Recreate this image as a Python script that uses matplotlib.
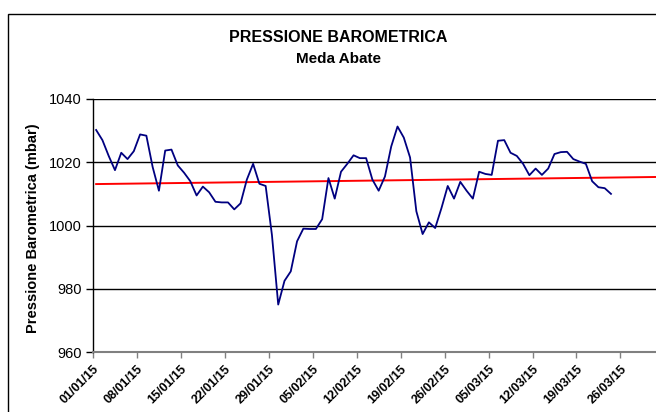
import matplotlib
matplotlib.use("Agg")
import matplotlib.pyplot as plt
from matplotlib.patches import Rectangle
import numpy as np

plt.rcParams['font.family'] = ['Liberation Sans', 'DejaVu Sans']

# Daily barometric pressure (mbar), 01/01/15 .. 24/03/15
pressure = [1030.2, 1027.0, 1022.0, 1017.5, 1023.0, 1021.0, 1023.5, 1028.8, 1028.4, 1018.5,
            1011.0, 1023.7, 1024.0, 1019.0, 1016.7, 1014.0, 1009.5, 1012.3, 1010.5, 1007.5,
            1007.3, 1007.3, 1005.1, 1007.0, 1014.5, 1019.5, 1013.2, 1012.5, 997.0, 975.0,
            982.5, 985.5, 995.0, 999.0, 998.9, 998.9, 1002.0, 1015.0, 1008.5, 1017.0,
            1019.5, 1022.2, 1021.3, 1021.3, 1014.5, 1011.0, 1015.5, 1025.0, 1031.3, 1027.8,
            1021.5, 1004.5, 997.3, 1001.0, 999.2, 1005.5, 1012.5, 1008.5, 1013.8, 1011.0,
            1008.5, 1017.0, 1016.3, 1016.0, 1026.8, 1027.0, 1023.0, 1022.0, 1019.5, 1015.9,
            1018.0, 1016.0, 1018.0, 1022.6, 1023.2, 1023.3, 1021.0, 1020.2, 1019.5, 1014.0,
            1012.1, 1011.8, 1010.0]

# Linear trend line endpoints (day, mbar)
trend_days = [0.5, 100.0]
trend_vals = [1013.1, 1015.6]

tick_labels = ["01/01/15", "08/01/15", "15/01/15", "22/01/15", "29/01/15", "05/02/15",
               "12/02/15", "19/02/15", "26/02/15", "05/03/15", "12/03/15", "19/03/15",
               "26/03/15"]
tick_days = [0, 7, 14, 21, 28, 35, 42, 49, 56, 63, 70, 77, 84]
y_ticks = [960, 980, 1000, 1020, 1040]

W, H = 656, 412
fig = plt.figure(figsize=(W / 100, H / 100), dpi=100)

# outer chart border (partially cut off)
fig.patches.append(Rectangle((8 / W, -0.2), 1.2, 1 - 14 / H + 0.2, transform=fig.transFigure,
                             fill=False, edgecolor='black', linewidth=1.0))

left_px, right_px, top_px, bottom_px = 93, 700, 99, 352
ax = fig.add_axes([left_px / W, 1 - bottom_px / H, (right_px - left_px) / W,
                   (bottom_px - top_px) / H])

x = np.arange(len(pressure)) + 0.5
ax.plot(x, pressure, color='#000080', linewidth=1.3, zorder=3)
ax.plot(trend_days, trend_vals, color='#FF0000', linewidth=1.4, zorder=2)

px_per_day = 43.95 / 7
ax.set_xlim(0, (right_px - left_px) / px_per_day)
ax.set_ylim(960, 1040)

for v in y_ticks[1:]:
    ax.axhline(v, color='black', linewidth=1.0, zorder=1)

ax.set_yticks(y_ticks)
ax.set_yticklabels([str(v) for v in y_ticks], fontsize=10.5)
ax.set_xticks(tick_days)
ax.set_xticklabels(tick_labels, rotation=45, ha='right', va='top', rotation_mode='anchor',
                   fontsize=9, fontweight='bold')
ax.tick_params(axis='y', direction='out', length=5, width=1, pad=3)
ax.tick_params(axis='x', direction='out', length=4, width=1, pad=4, color='#808080')

for s in ['top', 'right']:
    ax.spines[s].set_visible(False)
ax.spines['left'].set_color('black')
ax.spines['left'].set_linewidth(1.0)
ax.spines['bottom'].set_color('#808080')
ax.spines['bottom'].set_linewidth(1.5)

fig.text(338 / W, 1 - 38 / H, "PRESSIONE BAROMETRICA", ha='center', va='center',
         fontsize=11.5, fontweight='bold')
fig.text(338 / W, 1 - 59 / H, "Meda Abate", ha='center', va='center',
         fontsize=11, fontweight='bold')
fig.text(33 / W, 1 - 228 / H, "Pressione Barometrica (mbar)", ha='center', va='center',
         rotation=90, fontsize=10.5, fontweight='bold')

fig.savefig("out.png", dpi=100)
